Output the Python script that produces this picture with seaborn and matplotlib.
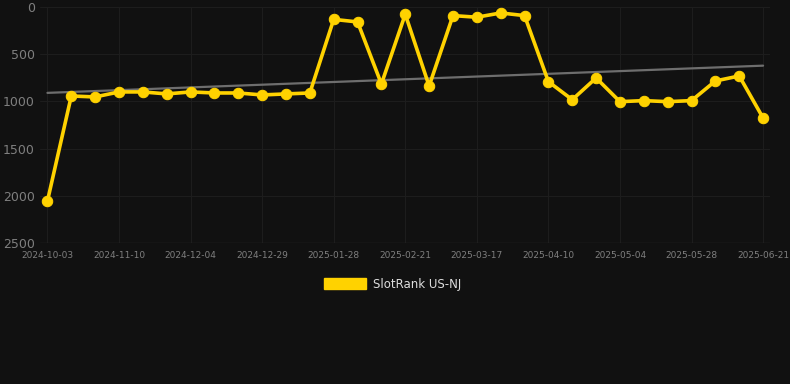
import numpy as np
import pandas as pd
import matplotlib
matplotlib.use("Agg")
import matplotlib.pyplot as plt
from matplotlib.patches import Patch
import seaborn as sns

# weekly rank readings (lower is better), 31 points
ranks = [2055, 943, 953, 900, 900, 921, 900, 911, 911, 932, 921, 911,
         132, 159, 816, 78, 837, 92, 109, 64, 92,
         791, 982, 752, 1003, 992, 1003, 992, 784, 731, 1176]
tick_labels = ["2024-10-03", "2024-11-10", "2024-12-04", "2024-12-29",
               "2025-01-28", "2025-02-21", "2025-03-17", "2025-04-10",
               "2025-05-04", "2025-05-28", "2025-06-21"]
series_name = "SlotRank US-NJ"

bg = "#111111"
gold = "#FFD200"
grid_c = "#1d1d1d"
text_c = "#7f7f7f"

df = pd.DataFrame({"idx": np.arange(len(ranks)), "rank": ranks})

sns.set_style("dark")
plt.rcParams["font.family"] = ["DejaVu Sans"]

fig = plt.figure(figsize=(7.9, 3.84), dpi=100, facecolor=bg)
ax = fig.add_axes([0.051, 0.367, 0.924, 0.615])
ax.set_facecolor(bg)

# trend line (least squares over index)
slope, icpt = np.polyfit(df["idx"], df["rank"], 1)
df["trend"] = icpt + slope * df["idx"]
sns.lineplot(data=df, x="idx", y="trend", ax=ax, color="#6e6e6e", linewidth=1.6)

sns.lineplot(data=df, x="idx", y="rank", ax=ax, color=gold, linewidth=2.6,
             marker="o", markersize=7.5, markeredgecolor=gold)

ax.set_ylim(2500, 0)
ax.set_xlim(-0.3, len(ranks) - 0.7)
ax.set_yticks([0, 500, 1000, 1500, 2000, 2500])
ax.set_xticks(np.arange(0, len(ranks), 3))
ax.set_xticklabels(tick_labels)
ax.tick_params(axis="y", colors=text_c, labelsize=9, length=0, pad=4)
ax.tick_params(axis="x", colors=text_c, labelsize=6.5, length=3, color="#262626", pad=3)
ax.grid(True, color=grid_c, linewidth=0.8)
ax.set_xlabel("")
ax.set_ylabel("")
for s in ax.spines.values():
    s.set_visible(False)
ax.axhline(2500, color="#2a2a2a", linewidth=1)

fig.legend(handles=[Patch(facecolor=gold, edgecolor=gold, label=series_name)],
           loc="center", bbox_to_anchor=(0.497, 0.26), frameon=False,
           labelcolor="#dddddd", fontsize=8.5, handlelength=3.6, handleheight=1.0,
           handletextpad=0.6)

fig.savefig("out.png", dpi=100, facecolor=bg)
